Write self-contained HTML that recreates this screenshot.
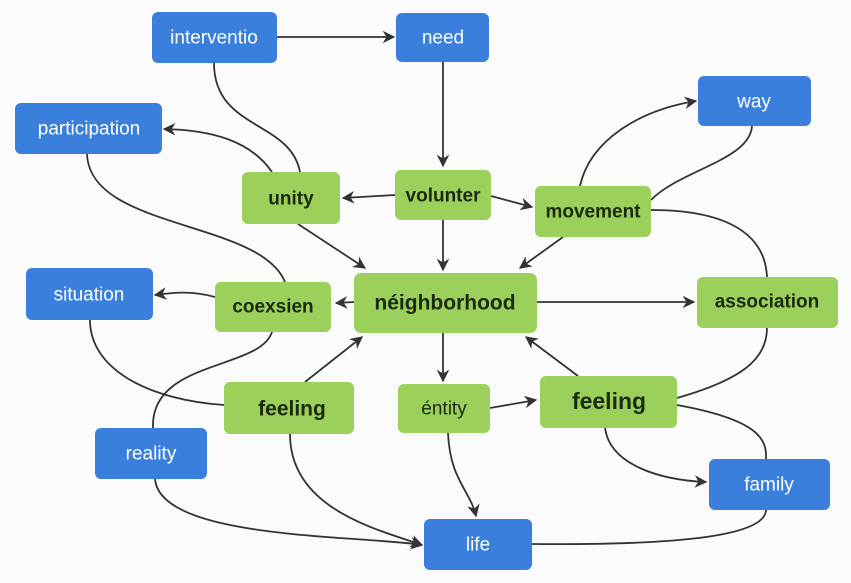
<!DOCTYPE html>
<html><head><meta charset="utf-8"><style>
body{margin:0;background:#fbfbfb;}
svg{display:block}
text{font-family:"Liberation Sans","DejaVu Sans",sans-serif;text-anchor:middle;dominant-baseline:central}
.b{fill:#3a7fdc}
.g{fill:#9bd15a}
.bt{fill:#fff;font-size:19px}
.gt{fill:#1b2a10;font-size:19px;font-weight:bold}
path{fill:none;stroke:#333;stroke-width:1.8}
</style></head><body>
<svg width="851" height="583" viewBox="0 0 851 583">
<defs><marker id="a" viewBox="0 0 10 10" refX="9" refY="5" markerWidth="7" markerHeight="7" orient="auto"><path d="M0,0 L10,5 L0,10 L3,5z" style="fill:#333;stroke:none"/></marker></defs>
<rect width="851" height="583" fill="#fbfbfb"/>
<!-- edges -->
<path d="M277,37 L394,37" marker-end="url(#a)"/>
<path d="M443,62 L443,166" marker-end="url(#a)"/>
<path d="M214,63 C214,130 290,120 300,172"/>
<path d="M272,172 C250,140 210,130 164,129" marker-end="url(#a)"/>
<path d="M87,154 C90,230 260,220 285,282"/>
<path d="M395,195 L343,198" marker-end="url(#a)"/>
<path d="M491,196 L532,207" marker-end="url(#a)"/>
<path d="M443,220 L443,270" marker-end="url(#a)"/>
<path d="M298,224 L365,268" marker-end="url(#a)"/>
<path d="M580,186 C590,140 640,110 696,101" marker-end="url(#a)"/>
<path d="M651,200 C680,170 750,160 752,126"/>
<path d="M651,210 C720,210 765,230 767,277"/>
<path d="M563,237 L520,268" marker-end="url(#a)"/>
<path d="M537,302 L694,302" marker-end="url(#a)"/>
<path d="M354,302 L336,303" marker-end="url(#a)"/>
<path d="M215,297 C190,290 170,293 155,295" marker-end="url(#a)"/>
<path d="M90,320 C90,370 150,400 224,405"/>
<path d="M272,332 C260,370 150,360 153,428"/>
<path d="M305,382 L362,337" marker-end="url(#a)"/>
<path d="M443,333 L443,381" marker-end="url(#a)"/>
<path d="M490,408 L536,400" marker-end="url(#a)"/>
<path d="M578,376 L526,337" marker-end="url(#a)"/>
<path d="M677,398 C740,380 767,360 767,328"/>
<path d="M605,428 C610,465 660,480 706,482" marker-end="url(#a)"/>
<path d="M677,405 C760,420 767,440 766,459"/>
<path d="M448,433 C450,480 470,490 476,516" marker-end="url(#a)"/>
<path d="M290,434 C290,510 380,530 422,545" marker-end="url(#a)"/>
<path d="M155,479 C160,540 360,535 422,545" marker-end="url(#a)"/>
<path d="M532,544 C650,545 765,540 766,510"/>
<!-- nodes -->
<rect class="b" x="152" y="12" width="125" height="51" rx="6"/><text class="bt" x="214" y="38">interventio</text>
<rect class="b" x="396" y="13" width="93" height="49" rx="6"/><text class="bt" x="443" y="38">need</text>
<rect class="b" x="698" y="76" width="113" height="50" rx="6"/><text class="bt" x="754" y="102">way</text>
<rect class="b" x="15" y="103" width="147" height="51" rx="6"/><text class="bt" x="89" y="129">participation</text>
<rect class="g" x="242" y="172" width="98" height="52" rx="6"/><text class="gt" x="291" y="199">unity</text>
<rect class="g" x="395" y="170" width="96" height="50" rx="6"/><text class="gt" x="443" y="196">volunter</text>
<rect class="g" x="535" y="186" width="116" height="51" rx="6"/><text class="gt" x="593" y="212">movement</text>
<rect class="b" x="26" y="268" width="127" height="52" rx="6"/><text class="bt" x="89" y="295">situation</text>
<rect class="g" x="215" y="282" width="116" height="50" rx="6"/><text class="gt" x="273" y="307">coexsien</text>
<rect class="g" x="354" y="273" width="183" height="60" rx="7"/><text class="gt" x="445" y="303" style="font-size:21px">néighborhood</text>
<rect class="g" x="697" y="277" width="141" height="51" rx="6"/><text class="gt" x="767" y="302">association</text>
<rect class="g" x="224" y="382" width="130" height="52" rx="6"/><text class="gt" x="292" y="409" style="font-size:21px">feeling</text>
<rect class="g" x="398" y="384" width="92" height="49" rx="6"/><text class="gt" x="444" y="409" style="font-weight:normal">éntity</text>
<rect class="g" x="540" y="376" width="137" height="52" rx="6"/><text class="gt" x="609" y="401" style="font-size:23px">feeling</text>
<rect class="b" x="95" y="428" width="112" height="51" rx="6"/><text class="bt" x="151" y="454">reality</text>
<rect class="b" x="709" y="459" width="121" height="51" rx="6"/><text class="bt" x="769" y="485">family</text>
<rect class="b" x="424" y="519" width="108" height="51" rx="6"/><text class="bt" x="478" y="545">life</text>
</svg>
</body></html>
